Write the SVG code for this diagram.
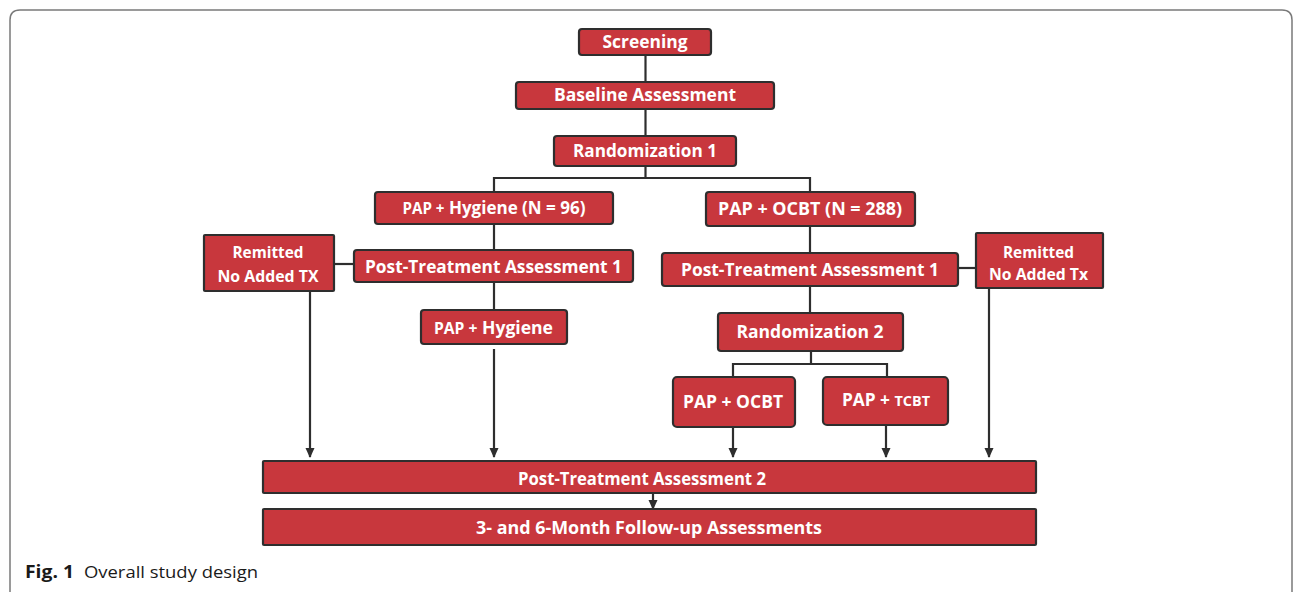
<svg xmlns="http://www.w3.org/2000/svg" width="1293" height="592" viewBox="0 0 1293 592">
<style>
.box{fill:#c8373d;stroke:#2e2e2e;stroke-width:2.2}
.t{fill:#ffffff;font-family:"Open Sans","Liberation Sans",sans-serif;font-weight:700;font-size:18px;text-anchor:middle}
.s{font-size:16px}
.r{font-size:16.5px}
.ln{fill:none;stroke:#2e2e2e;stroke-width:2.2}
.cap{font-family:"Open Sans","Liberation Sans",sans-serif;font-size:17px;fill:#1a1a1a}
</style>
<defs>
<marker id="ah" markerUnits="userSpaceOnUse" markerWidth="10" markerHeight="10" viewBox="0 0 10 10" refX="9" refY="5" orient="auto">
<path d="M0,0.5 L10,5 L0,9.5 Z" fill="#2e2e2e"/>
</marker>
</defs>
<rect width="1293" height="592" fill="#ffffff"/>
<path d="M10,592 L10,20 Q10,10 20,10 L1282,10 Q1292,10 1292,20 L1292,592" fill="none" stroke="#7a7a7a" stroke-width="1.5"/>

<g id="connectors">
<path class="ln" d="M645.5,55 V82"/>
<path class="ln" d="M645.5,109 V136"/>
<path class="ln" d="M645.5,166 V178 M494,192 V178 H810 V192"/>
<path class="ln" d="M494,224 V250"/>
<path class="ln" d="M494,282 V310"/>
<path class="ln" d="M334,264 H354"/>
<path class="ln" d="M310,291 V457" marker-end="url(#ah)"/>
<path class="ln" d="M494,349 V457" marker-end="url(#ah)"/>
<path class="ln" d="M810,226 V253"/>
<path class="ln" d="M810,286 V313"/>
<path class="ln" d="M958,268 H976"/>
<path class="ln" d="M989,288 V457" marker-end="url(#ah)"/>
<path class="ln" d="M811,351 V364 M733,377 V364 H887 V377"/>
<path class="ln" d="M733,427 V457" marker-end="url(#ah)"/>
<path class="ln" d="M886,425 V457" marker-end="url(#ah)"/>
<path class="ln" d="M653,493 V509" marker-end="url(#ah)"/>
</g>

<g id="screening">
<rect class="box" x="579" y="29" width="132" height="26" rx="3"/>
<text class="t" x="645" y="48" textLength="85" lengthAdjust="spacingAndGlyphs">Screening</text>
</g>
<g id="baseline">
<rect class="box" x="516" y="82" width="258" height="27" rx="3"/>
<text class="t" x="645" y="101" textLength="182" lengthAdjust="spacingAndGlyphs">Baseline Assessment</text>
</g>
<g id="rand1">
<rect class="box" x="554" y="136" width="182" height="30" rx="3"/>
<text class="t" x="645" y="157" textLength="144" lengthAdjust="spacingAndGlyphs">Randomization 1</text>
</g>
<g id="pap-hyg-96">
<rect class="box" x="375" y="192" width="238" height="32" rx="3"/>
<text class="t" x="494" y="214" textLength="183" lengthAdjust="spacingAndGlyphs"><tspan class="s">PAP +</tspan> Hygiene (N = 96)</text>
</g>
<g id="pta1-left">
<rect class="box" x="354" y="250" width="279" height="32" rx="3"/>
<text class="t" x="493.5" y="273" textLength="257" lengthAdjust="spacingAndGlyphs">Post-Treatment Assessment 1</text>
</g>
<g id="remitted-left">
<rect class="box" x="204" y="235" width="130" height="56" rx="1"/>
<text class="t r" x="268" y="258" textLength="71" lengthAdjust="spacingAndGlyphs">Remitted</text>
<text class="t r" x="268" y="282" textLength="101" lengthAdjust="spacingAndGlyphs">No Added TX</text>
</g>
<g id="pap-hyg">
<rect class="box" x="421" y="310" width="146" height="34" rx="3"/>
<text class="t" x="493.5" y="334" textLength="119" lengthAdjust="spacingAndGlyphs"><tspan class="s">PAP +</tspan> Hygiene</text>
</g>
<g id="pap-ocbt-288">
<rect class="box" x="706" y="192" width="209" height="34" rx="3"/>
<text class="t" x="810" y="215" textLength="184" lengthAdjust="spacingAndGlyphs">PAP + OCBT (N = 288)</text>
</g>
<g id="pta1-right">
<rect class="box" x="662" y="253" width="296" height="33" rx="3"/>
<text class="t" x="810" y="276" textLength="258" lengthAdjust="spacingAndGlyphs">Post-Treatment Assessment 1</text>
</g>
<g id="remitted-right">
<rect class="box" x="976" y="233" width="127" height="55" rx="1"/>
<text class="t r" x="1038.5" y="258" textLength="71" lengthAdjust="spacingAndGlyphs">Remitted</text>
<text class="t r" x="1038.5" y="280" textLength="99" lengthAdjust="spacingAndGlyphs">No Added Tx</text>
</g>
<g id="rand2">
<rect class="box" x="718" y="313" width="185" height="38" rx="3"/>
<text class="t" x="810" y="338" textLength="147" lengthAdjust="spacingAndGlyphs">Randomization 2</text>
</g>
<g id="pap-ocbt">
<rect class="box" x="673" y="377" width="122" height="50" rx="4"/>
<text class="t" x="733" y="408" textLength="100" lengthAdjust="spacingAndGlyphs">PAP + OCBT</text>
</g>
<g id="pap-tcbt">
<rect class="box" x="823" y="377" width="125" height="48" rx="4"/>
<text class="t" x="886" y="406" textLength="88" lengthAdjust="spacingAndGlyphs">PAP + <tspan style="font-size:15px">TCBT</tspan></text>
</g>
<g id="pta2">
<rect class="box" x="263" y="461" width="773" height="32" rx="1"/>
<text class="t" x="642" y="485" textLength="248" lengthAdjust="spacingAndGlyphs">Post-Treatment Assessment 2</text>
</g>
<g id="followup">
<rect class="box" x="263" y="509" width="773" height="36" rx="1"/>
<text class="t" x="649" y="534" textLength="346" lengthAdjust="spacingAndGlyphs">3- and 6-Month Follow-up Assessments</text>
</g>

<g id="caption">
<text class="cap" x="25" y="578"><tspan font-weight="700" textLength="49" lengthAdjust="spacingAndGlyphs">Fig. 1</tspan><tspan x="84" textLength="174" lengthAdjust="spacingAndGlyphs">Overall study design</tspan></text>
</g>
</svg>
